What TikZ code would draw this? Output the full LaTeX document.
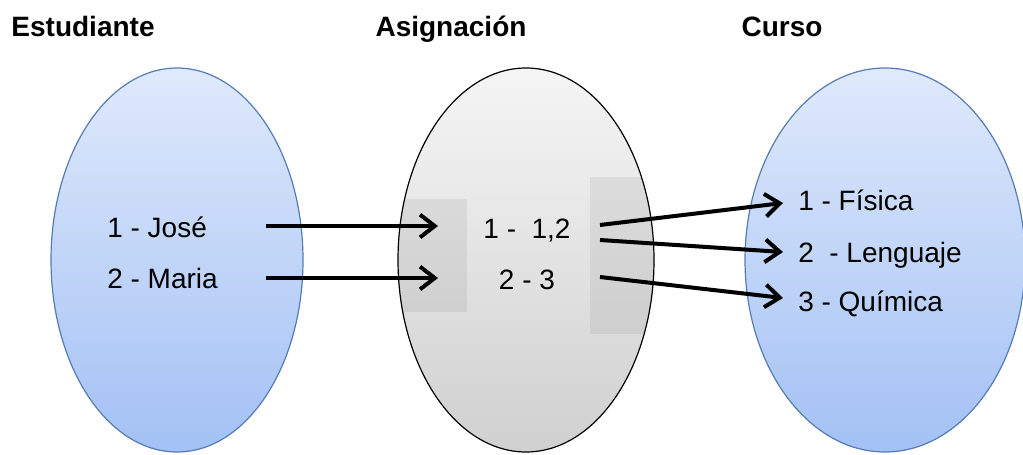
\documentclass[tikz,border=0pt]{standalone}
\usepackage{fontspec}
\setmainfont{Liberation Sans}
\usetikzlibrary{arrows.meta}

\definecolor{azulClaro}{RGB}{223,233,251}
\definecolor{azulOscuro}{RGB}{163,193,245}
\definecolor{bordeAzul}{RGB}{86,124,180}
\definecolor{grisClaro}{RGB}{245,245,245}
\definecolor{grisOscuro}{RGB}{208,208,208}

\tikzset{
  conjunto/.style={draw=bordeAzul, line width=0.9pt, top color=azulClaro, bottom color=azulOscuro},
  relacion/.style={top color=grisClaro, bottom color=grisOscuro},
  recuadro/.style={fill=black, fill opacity=0.06},
  titulo/.style={font=\fontsize{21}{25}\selectfont\bfseries, inner sep=0.75pt, anchor=base},
  elemento/.style={font=\fontsize{21}{25}\selectfont, inner sep=0.75pt},
  flecha/.style={line width=3pt, -{Straight Barb[length=11pt,width=17pt]}},
}

\begin{document}
\begin{tikzpicture}[x=0.75pt,y=0.75pt,yscale=-1,xscale=1]
\useasboundingbox (0,0) rectangle (1023,454);

%Shape: Ellipse [estudiantes]
\draw[conjunto] (177,260) ellipse [x radius=126, y radius=192];
%Shape: Ellipse [cursos]
\draw[conjunto] (885,260) ellipse [x radius=140, y radius=192];
%Shape: Ellipse [asignaciones]
\path[relacion] (526,260) ellipse [x radius=128, y radius=192];
\begin{scope}
\clip (526,260) ellipse [x radius=128, y radius=192];
\fill[recuadro] (395,199) rectangle (467,312);
\fill[recuadro] (590,177) rectangle (660,334);
\end{scope}
\draw[line width=0.9pt] (526,260) ellipse [x radius=128, y radius=192];

% Text Node
\node[titulo] (estudiante) at (83,36) {Estudiante};
% Text Node
\node[titulo] (asignacion) at (451,36) {Asignación};
% Text Node
\node[titulo] (curso) at (782,36) {Curso};

% Text Node
\node[elemento, anchor=base west] (jose) at (106,237) {1 - José};
\node[elemento, anchor=base west] (maria) at (106,288) {2 - Maria};
% Text Node
\node[elemento, anchor=base] (asig1) at (527,238) {1 -\ \ 1,2};
\node[elemento, anchor=base] (asig2) at (527,289) {2 - 3};
% Text Node
\node[elemento, anchor=base west] (fisica) at (797,210) {1 - Física};
\node[elemento, anchor=base west] (lenguaje) at (797,262) {2\ \ - Lenguaje};
\node[elemento, anchor=base west] (quimica) at (797,311) {3 - Química};

%Straight Lines [flechas]
\coordinate (joseSal) at (266,226);
\coordinate (mariaSal) at (266,278);
\coordinate (asig1Ent) at (438,226);
\coordinate (asig2Ent) at (438,278);
\coordinate (asig1SalA) at (600,225);
\coordinate (asig1SalB) at (600,240);
\coordinate (asig2Sal) at (600,277);
\coordinate (fisicaEnt) at (783,203);
\coordinate (lenguajeEnt) at (783,252);
\coordinate (quimicaEnt) at (783,298);

\draw[flecha] (joseSal) -- (asig1Ent);
\draw[flecha] (mariaSal) -- (asig2Ent);
\draw[flecha] (asig1SalA) -- (fisicaEnt);
\draw[flecha] (asig1SalB) -- (lenguajeEnt);
\draw[flecha] (asig2Sal) -- (quimicaEnt);

\end{tikzpicture}
\end{document}
